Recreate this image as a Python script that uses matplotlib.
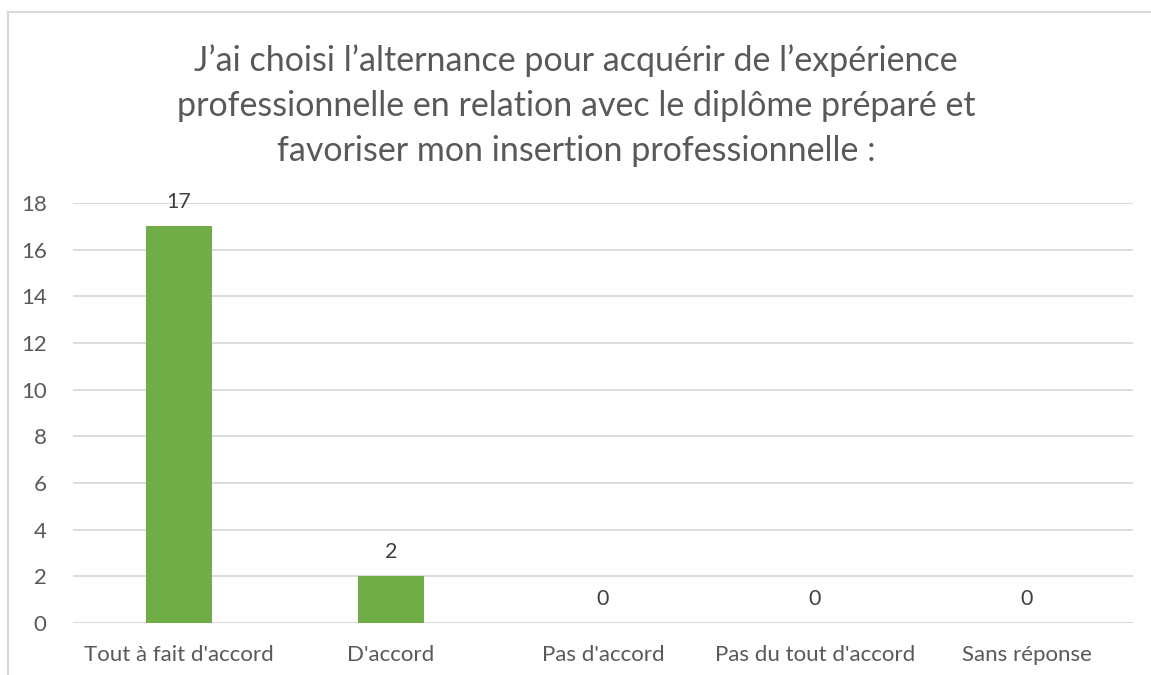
import matplotlib
matplotlib.use("Agg")
import matplotlib.pyplot as plt
import numpy as np

categories = ["Tout à fait d'accord", "D'accord", "Pas d'accord",
              "Pas du tout d'accord", "Sans réponse"]
values = [17, 2, 0, 0, 0]
yticks = [0, 2, 4, 6, 8, 10, 12, 14, 16, 18]
title = ("J\u2019ai choisi l\u2019alternance pour acquérir de l\u2019expérience\n"
         "professionnelle en relation avec le diplôme préparé et\n"
         "favoriser mon insertion professionnelle :")

GREY = "#595959"
plt.rcParams.update({"font.family": ["Lato", "DejaVu Sans"]})

W, H = 1151, 675
fig = plt.figure(figsize=(W / 100, H / 100), dpi=100)
ax = fig.add_axes([73 / W, 1 - 623 / H, (1133 - 73) / W, (623 - 203) / H])

x = np.arange(len(categories))
ax.bar(x, values, 0.316, color="#70AD47", zorder=3)
for xi, v in zip(x, values):
    ax.text(xi, v + 0.6, str(v), ha="center", va="bottom", fontsize=15.5, color="#404040")

ax.set_xlim(-0.5, len(categories) - 0.5)
ax.set_ylim(0, 18)
ax.set_yticks(yticks)
ax.set_xticks(x)
ax.set_xticklabels(categories)
ax.tick_params(length=0, labelsize=16, colors=GREY)
ax.tick_params(axis="x", pad=16)
ax.tick_params(axis="y", pad=19)
ax.grid(axis="y", color="#D9D9D9", lw=1.3, zorder=0)
for s in ax.spines.values():
    s.set_visible(False)
ax.axhline(0, color="#D9D9D9", lw=1.3, zorder=1)

fig.text(576 / W, 1 - 106 / H, title, ha="center", va="center", fontsize=24.5,
         color=GREY, linespacing=1.5)

# chart-area border (left and top edges visible)
fig.add_artist(plt.Line2D([8 / W, 8 / W], [0, 1 - 12 / H], color="#D9D9D9", lw=1.5,
                          transform=fig.transFigure))
fig.add_artist(plt.Line2D([8 / W, 1], [1 - 12 / H, 1 - 12 / H], color="#D9D9D9", lw=1.5,
                          transform=fig.transFigure))

fig.savefig("out.png", dpi=100)
